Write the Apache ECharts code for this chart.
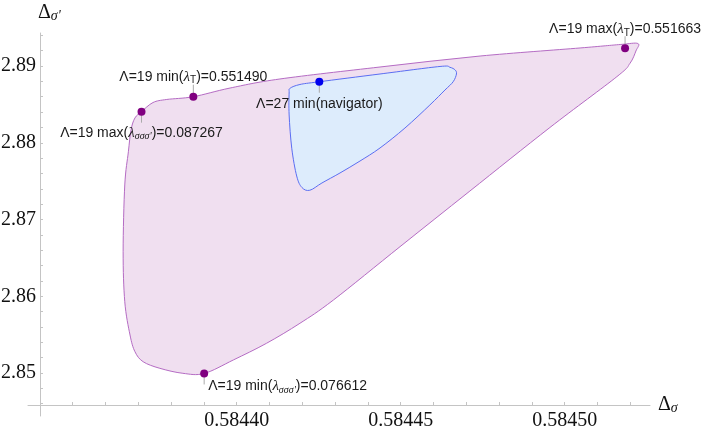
<!DOCTYPE html>
<html><head><meta charset="utf-8">
<script src="https://cdn.jsdelivr.net/npm/echarts@6/dist/echarts.min.js"></script>
<style>html,body{margin:0;padding:0;background:#fff}#c{width:706px;height:436px}</style>
</head><body><div id="c"></div>
<script>
// Outer (Λ=19) allowed region boundary
const outerX = [0.5843710, 0.5843690, 0.5843678, 0.5843670, 0.5843659, 0.5843654, 0.5843659, 0.5843675, 0.5843690, 0.5843715, 0.5843766, 0.5843836, 0.5843901, 0.5843990, 0.5844091, 0.5844193, 0.5844295, 0.5844498, 0.5844711, 0.5844955, 0.5845159, 0.5845199, 0.5845217, 0.5845223, 0.5845169, 0.5845047, 0.5844742, 0.5844437, 0.5844132, 0.5843980, 0.5843868, 0.5843787, 0.5843745];
const outerY = [2.88405, 2.88323, 2.88166, 2.87883, 2.87450, 2.86581, 2.85929, 2.85495, 2.85278, 2.85147, 2.85061, 2.84996, 2.84994, 2.85170, 2.85387, 2.85648, 2.85951, 2.86646, 2.87371, 2.88199, 2.88861, 2.89035, 2.89195, 2.89293, 2.89280, 2.89235, 2.89130, 2.88987, 2.88831, 2.88713, 2.88600, 2.88564, 2.88524];
// Inner (Λ=27) region boundary
const innerX = [0.5844163, 0.5844193, 0.5844252, 0.5844437, 0.5844620, 0.5844650, 0.5844666, 0.5844670, 0.5844660, 0.5844635, 0.5844589, 0.5844513, 0.5844437, 0.5844376, 0.5844315, 0.5844260, 0.5844223, 0.5844199, 0.5844183, 0.5844168, 0.5844160, 0.5844160];
const innerY = [2.88710, 2.88759, 2.88795, 2.88896, 2.88994, 2.88983, 2.88948, 2.88896, 2.88795, 2.88687, 2.88492, 2.88192, 2.87932, 2.87762, 2.87606, 2.87476, 2.87381, 2.87417, 2.87567, 2.87928, 2.88362, 2.88648];
// Marked points
const pointX = [0.5843710, 0.5843868, 0.5845184, 0.5843901, 0.5844252];
const pointY = [2.88405, 2.88600, 2.89231, 2.84994, 2.88795];
const pointLabels = [
  '{a|Λ=19 max(}{l|λ}{s|σσσ\'}{a|)=0.087267}',
  '{a|Λ=19 min(}{l|λ}{t|T}{a|)=0.551490}',
  '{a|Λ=19 max(}{l|λ}{t|T}{a|)=0.551663}',
  '{a|Λ=19 min(}{l|λ}{s|σσσ\'}{a|)=0.076612}',
  '{a|Λ=27 min(navigator)}'
];
const xTickLabels = [0.58440, 0.58445, 0.58450];
const yTickLabels = [2.85, 2.86, 2.87, 2.88, 2.89];

// tick positions (axis decoration)
const xTicks = []; for (let i = 58435; i <= 58452; i++) xTicks.push(i / 1e5);
const yTicks = []; for (let i = 1423; i <= 1447; i++) yTicks.push(i * 2 / 1000);

const pointStyle = [
  {color:'#800080', lineEnd: 11, dx: 0, dy: 21, align:'center'},
  {color:'#800080', lineEnd: -12, dx: 0, dy: -20, align:'center'},
  {color:'#800080', lineEnd: -12, dx: 0, dy: -19, align:'center'},
  {color:'#800080', lineEnd: 11, dx: 4, dy: 13, align:'left'},
  {color:'#0000ee', lineEnd: 11, dx: 0, dy: 22, align:'center'}
];
const rich = {
  a: {fontFamily:'Liberation Sans', fontSize:14, lineHeight:18, fill:'#1a1a1a', color:'#1a1a1a'},
  l: {fontFamily:'Liberation Serif', fontStyle:'italic', fontSize:15, lineHeight:18, fill:'#1a1a1a', color:'#1a1a1a'},
  s: {fontFamily:'Liberation Serif', fontStyle:'italic', fontSize:10, lineHeight:10, verticalAlign:'bottom', fill:'#1a1a1a', color:'#1a1a1a'},
  t: {fontFamily:'Liberation Sans', fontSize:10, lineHeight:10, verticalAlign:'bottom', fill:'#1a1a1a', color:'#1a1a1a'}
};

// closed Catmull-Rom curve through the projected boundary points
function closedCurve(pts) {
  const n = pts.length;
  let d = 'M' + pts[0][0] + ' ' + pts[0][1];
  for (let i = 0; i < n; i++) {
    const p0 = pts[(i - 1 + n) % n], p1 = pts[i], p2 = pts[(i + 1) % n], p3 = pts[(i + 2) % n];
    const c1x = p1[0] + (p2[0] - p0[0]) / 6, c1y = p1[1] + (p2[1] - p0[1]) / 6;
    const c2x = p2[0] - (p3[0] - p1[0]) / 6, c2y = p2[1] - (p3[1] - p1[1]) / 6;
    d += 'C' + c1x + ' ' + c1y + ' ' + c2x + ' ' + c2y + ' ' + p2[0] + ' ' + p2[1];
  }
  return d + 'Z';
}

function polySeries(xs, ys, fill, stroke, z) {
  return {
    type:'custom', coordinateSystem:'cartesian2d', z: z, silent:true,
    data: xs.map((x, i) => [x, ys[i]]),
    renderItem: (params, api) => {
      if (params.dataIndex !== 0) return null;
      const pts = xs.map((x, i) => api.coord([x, ys[i]]));
      return {type:'path', shape:{pathData: closedCurve(pts)},
        style:{fill: fill, stroke: stroke, lineWidth: 1}};
    }
  };
}

const chart = echarts.init(document.getElementById('c'), null, {renderer:'canvas'});
const axisColor = '#c4c4c4';
const nameRich = {
  d:{fontFamily:'Liberation Serif', fontSize:20, color:'#111'},
  s:{fontFamily:'Liberation Serif', fontStyle:'italic', fontSize:14, color:'#111', verticalAlign:'bottom', lineHeight:12}
};
chart.setOption({
  animation:false,
  backgroundColor:'#fff',
  grid:{left:28, right:56, top:33, bottom:20, containLabel:false, outerBoundsMode:'none'},
  xAxis:{
    type:'value', min:0.5843364, max:0.5845260, offset:-11,
    axisLine:{show:true, onZero:false, lineStyle:{color:axisColor, width:1}},
    axisTick:{show:true, inside:true, length:3, customValues:xTicks, lineStyle:{color:axisColor}},
    axisLabel:{customValues:xTickLabels, formatter:v => v.toFixed(5), fontFamily:'Liberation Serif', fontSize:20, color:'#111', margin:6},
    splitLine:{show:false},
    name:'{d|Δ}{s|σ}', nameLocation:'end', nameGap:8,
    nameTextStyle:{rich:nameRich}
  },
  yAxis:{
    type:'value', min:2.844398, max:2.894300, offset:-12,
    axisLine:{show:true, onZero:false, lineStyle:{color:axisColor, width:1}},
    axisTick:{show:true, inside:true, length:3, customValues:yTicks, lineStyle:{color:axisColor}},
    axisLabel:{customValues:yTickLabels, formatter:v => v.toFixed(2), fontFamily:'Liberation Serif', fontSize:20, color:'#111', margin:4},
    splitLine:{show:false},
    name:'{d|Δ}{s|σ\'}', nameLocation:'end', nameGap:10,
    nameTextStyle:{rich:nameRich, align:'left', padding:[0,0,0,-2]}
  },
  series:[
    polySeries(outerX, outerY, '#f0dff0', '#b56cc4', 2),
    polySeries(innerX, innerY, '#ddecfc', '#5b6ef2', 3),
    {
      type:'custom', coordinateSystem:'cartesian2d', z:5, silent:true,
      data: pointX.map((x, i) => [x, pointY[i]]),
      renderItem: (params, api) => {
        const i = params.dataIndex;
        const p = api.coord([pointX[i], pointY[i]]);
        const st = pointStyle[i];
        return {type:'group', children:[
          {type:'line', shape:{x1:p[0], y1:p[1], x2:p[0], y2:p[1] + st.lineEnd}, style:{stroke:'#aaaaaa', lineWidth:1}},
          {type:'circle', shape:{cx:p[0], cy:p[1], r:4}, style:{fill:st.color}},
          {type:'text', x:p[0] + st.dx, y:p[1] + st.dy, style:{text:pointLabels[i], rich:rich, align:st.align, verticalAlign:'middle', fill:'#1a1a1a', fontFamily:'Liberation Sans', fontSize:14}}
        ]};
      }
    }
  ]
});
</script></body></html>
